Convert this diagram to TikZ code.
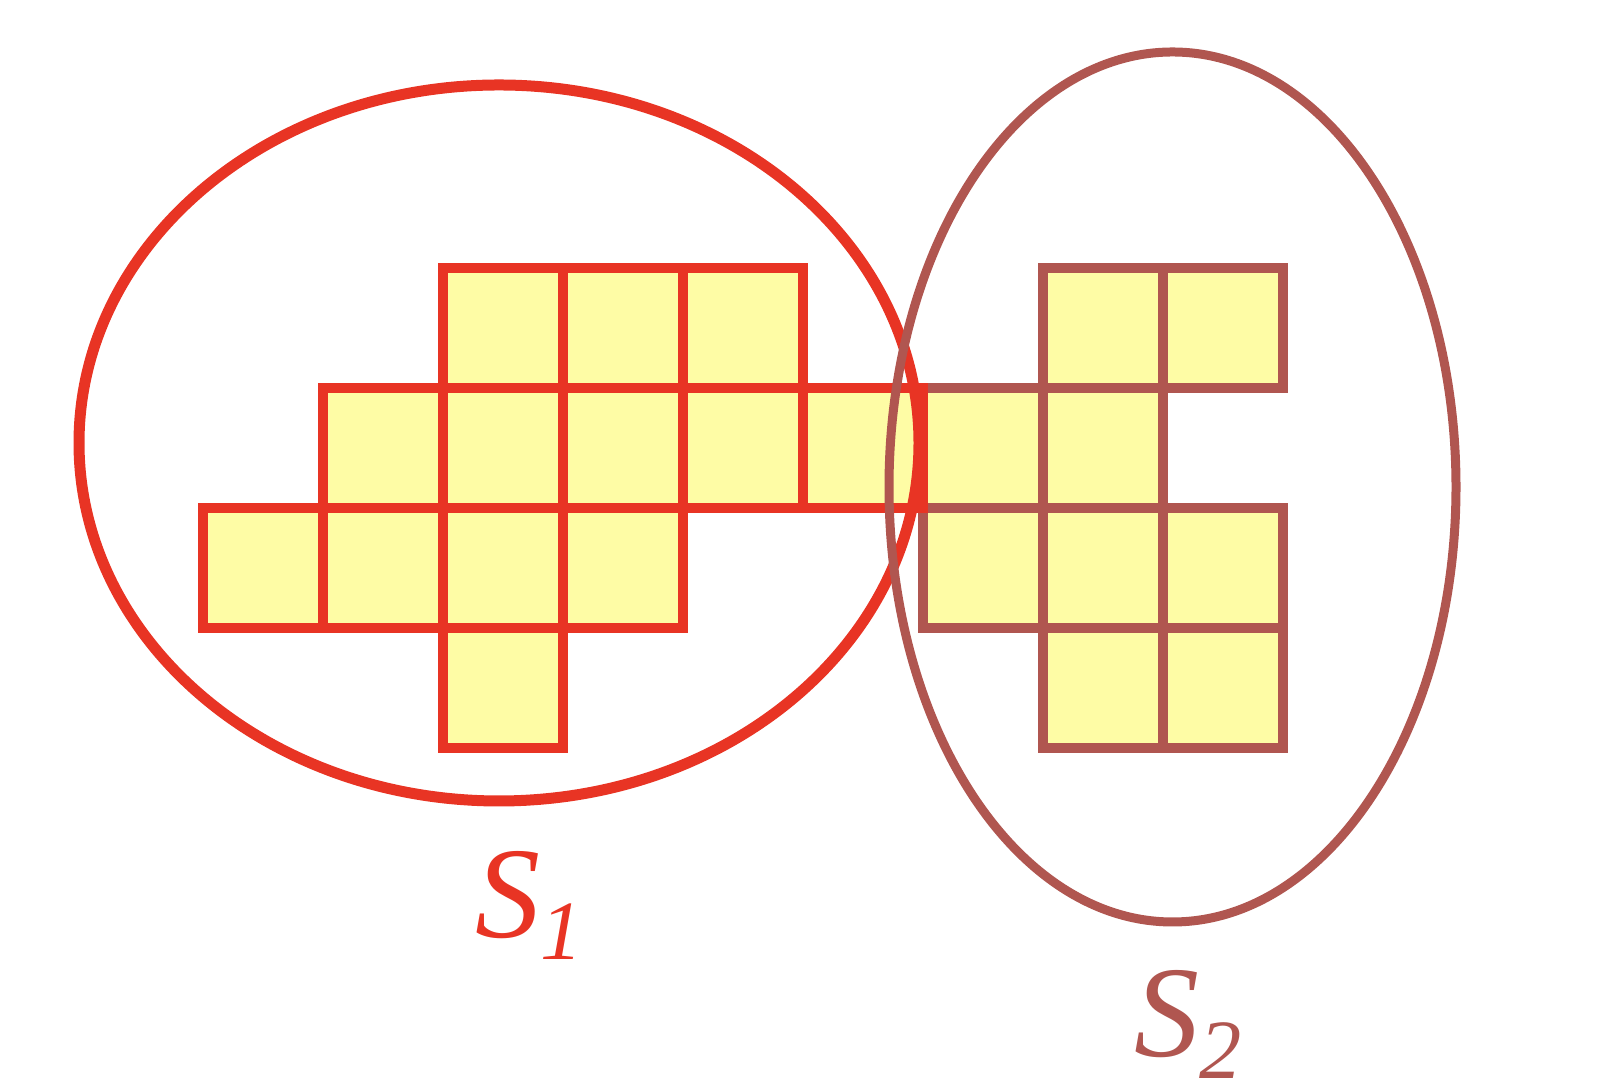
\documentclass[tikz,border=0pt]{standalone}
\usepackage{fontspec}
\setmainfont{Liberation Serif}

\definecolor{setred}{RGB}{232,52,36}
\definecolor{setbrown}{RGB}{176,86,80}
\definecolor{cellyellow}{RGB}{254,252,165}

\begin{document}
\begin{tikzpicture}[
    cell/.style={rectangle, anchor=north west, minimum size=1.2cm, inner sep=0pt, fill=cellyellow, line width=1mm},
    red cell/.style={cell, draw=setred},
    brown cell/.style={cell, draw=setbrown},
    set edge/.style={line width=1.1mm},
    set label/.style={font=\fontsize{37}{37}\selectfont\itshape, inner sep=0pt, anchor=base west}
]
\useasboundingbox (0,0) rectangle (16.02,10.92);

% cells of S2
\foreach \r/\c in {0/7, 0/8, 1/6, 1/7, 2/6, 2/7, 2/8, 3/7, 3/8}
    \node[brown cell] (b\r\c) at ({1.98+1.2*\c}, {8.29-1.2*\r}) {};

% cells of S1
\foreach \r/\c in {0/2, 0/3, 0/4, 1/1, 1/2, 1/3, 1/4, 1/5, 2/0, 2/1, 2/2, 2/3, 3/2}
    \node[red cell] (a\r\c) at ({1.98+1.2*\c}, {8.29-1.2*\r}) {};

% the two sets
\draw[set edge, setred] (4.99,6.49) ellipse [x radius=4.2cm, y radius=3.58cm];
\draw[set edge, setbrown, line width=0.9mm] (11.725,6.05) ellipse [x radius=2.835cm, y radius=4.35cm];

\node[set label, text=setred] (S1) at (4.75,1.54) {S\raisebox{-0.22cm}{\fontsize{24}{24}\selectfont 1}};
\node[set label, text=setbrown] (S2) at (11.34,0.35) {S\raisebox{-0.22cm}{\fontsize{24}{24}\selectfont 2}};

\end{tikzpicture}
\end{document}
